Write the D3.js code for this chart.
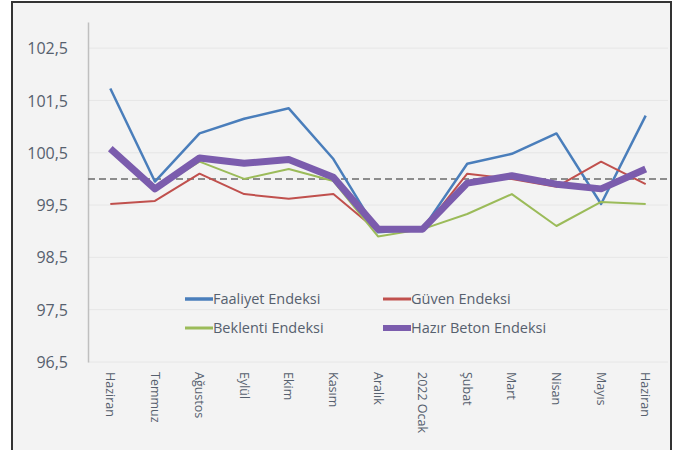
<!DOCTYPE html>
<html>
<head>
<meta charset="utf-8">
<script src="https://cdn.jsdelivr.net/npm/d3@7"></script>
<style>
  body { margin: 0; background: #fff; }
  svg { display: block; font-family: "Open Sans", "Noto Sans", sans-serif; }
</style>
</head>
<body>
<svg id="chart" width="678" height="450"></svg>
<script>
// aylar
var months = ["Haziran", "Temmuz", "Ağustos", "Eylül", "Ekim", "Kasım", "Aralık",
  "2022 Ocak", "Şubat", "Mart", "Nisan", "Mayıs", "Haziran"];
var faaliyet = [101.73, 99.95, 100.87, 101.15, 101.35, 100.38, 98.98, 99.04, 100.29, 100.48, 100.87, 99.52, 101.21];
var guven = [99.52, 99.58, 100.1, 99.71, 99.62, 99.71, 99.0, 99.02, 100.1, 100.0, 99.85, 100.33, 99.9];
var beklenti = [100.55, 99.8, 100.33, 100.0, 100.19, 99.96, 98.9, 99.04, 99.33, 99.71, 99.1, 99.56, 99.52];
var hazirBeton = [100.58, 99.81, 100.4, 100.3, 100.37, 100.03, 99.04, 99.04, 99.92, 100.06, 99.9, 99.81, 100.19];
var yTicks = [96.5, 97.5, 98.5, 99.5, 100.5, 101.5, 102.5];
var refLine = 100;

var series = [
  { name: "Faaliyet Endeksi", values: faaliyet, color: "#4a7ebb", width: 2.5 },
  { name: "Güven Endeksi", values: guven, color: "#c0504d", width: 2 },
  { name: "Beklenti Endeksi", values: beklenti, color: "#9bbb59", width: 2 },
  { name: "Hazır Beton Endeksi", values: hazirBeton, color: "#7b5cad", width: 7 }
];

var svg = d3.select("#chart");

// çerçeve
svg.append("rect")
  .attr("x", 12).attr("y", 2)
  .attr("width", 659).attr("height", 470)
  .attr("fill", "#f3f3f3")
  .attr("stroke", "#333")
  .attr("stroke-width", 2);

var x = d3.scaleBand().domain(d3.range(months.length)).range([88, 668]);
var y = d3.scaleLinear().domain([96.5, 103]).range([362, 22]);
var cx = i => x(i) + x.bandwidth() / 2;

// yatay ızgara
svg.append("g")
  .selectAll("line")
  .data(yTicks)
  .join("line")
  .attr("x1", 88).attr("x2", 668)
  .attr("y1", d => y(d)).attr("y2", d => y(d))
  .attr("stroke", "#e6e6e6")
  .attr("stroke-width", 1);

// y ekseni
var yAxis = d3.axisLeft(y)
  .tickValues(yTicks)
  .tickSize(0)
  .tickPadding(20)
  .tickFormat(d => d3.format(".1f")(d).replace(".", ","));

svg.append("g")
  .attr("transform", "translate(88,0)")
  .call(yAxis)
  .call(g => g.select(".domain").attr("stroke", "#bfbfbf").attr("stroke-width", 1.5))
  .call(g => g.selectAll("text")
    .attr("fill", "#56606e")
    .style("font-size", "16px")
    .style("font-family", "'Open Sans', sans-serif")
    .attr("dy", "0.35em"));

// x etiketleri
svg.append("g")
  .selectAll("text")
  .data(months)
  .join("text")
  .attr("transform", (d, i) => `translate(${cx(i)},372) rotate(90)`)
  .attr("text-anchor", "start")
  .attr("dy", "0.35em")
  .attr("fill", "#56606e")
  .style("font-size", "12.5px")
  .text(d => d);

// 100 referans çizgisi
svg.append("line")
  .attr("x1", 88).attr("x2", 668)
  .attr("y1", y(refLine)).attr("y2", y(refLine))
  .attr("stroke", "#8c8c8c")
  .attr("stroke-width", 2)
  .attr("stroke-dasharray", "7,4");

var line = d3.line()
  .x((d, i) => cx(i))
  .y(d => y(d));

svg.append("g")
  .selectAll("path")
  .data(series)
  .join("path")
  .attr("d", d => line(d.values))
  .attr("fill", "none")
  .attr("stroke", d => d.color)
  .attr("stroke-width", d => d.width)
  .attr("stroke-linejoin", "round");

// lejant
var legendPos = [[185, 299], [383, 299], [185, 328], [383, 328]];
var legend = svg.append("g")
  .selectAll("g")
  .data(series)
  .join("g")
  .attr("transform", (d, i) => `translate(${legendPos[i][0]},${legendPos[i][1]})`);

legend.append("line")
  .attr("x1", 0).attr("x2", 28)
  .attr("stroke", d => d.color)
  .attr("stroke-width", d => Math.min(d.width + 1, 6));

legend.append("text")
  .attr("x", 28)
  .attr("dy", "0.35em")
  .attr("fill", "#56606e")
  .style("font-size", "14.5px")
  .text(d => d.name);
</script>
</body>
</html>
